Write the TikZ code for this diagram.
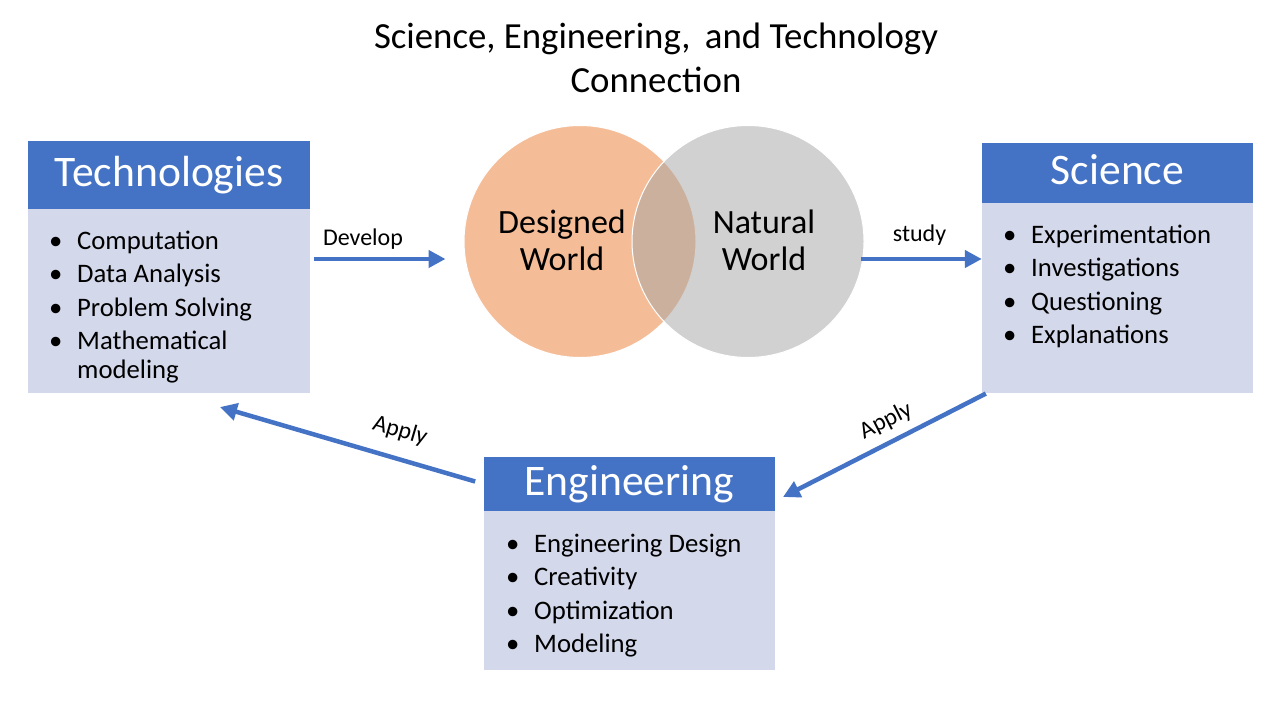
\documentclass[tikz,border=0pt]{standalone}
\usepackage{fontspec}
\setmainfont{Carlito}
\usetikzlibrary{arrows.meta}

\definecolor{headblue}{HTML}{4472C4}
\definecolor{bodyblue}{HTML}{D3D8EB}
\definecolor{designed}{HTML}{ED7D31}
\definecolor{natural}{HTML}{A5A5A5}

\tikzset{
  head/.style={fill=headblue, text=white, inner sep=0pt, font=\fontsize{43.6}{48}\selectfont, text height=29pt, text depth=7pt},
  body/.style={fill=bodyblue, inner sep=0pt, anchor=north},
  items/.style={anchor=base west, inner sep=0pt, font=\fontsize{26.7}{33.5}\selectfont},
  world/.style={circle, minimum size=232pt, inner sep=0pt, draw=white, line width=1pt, fill opacity=0.5},
  worldtext/.style={align=center, inner sep=0pt, font=\fontsize{34}{37}\selectfont},
  arr/.style={draw=headblue, line width=4.5pt, -{Triangle[length=17pt,width=17pt]}},
  lbl/.style={inner sep=0pt, font=\fontsize{24}{28}\selectfont}
}
\newcommand{\bl}{\makebox[28pt][l]{\textbullet}}

\begin{document}
\begin{tikzpicture}[x=1pt, y=-1pt]
    \fill[white] (0,0) rectangle (1280,720);
    \useasboundingbox (0,0) rectangle (1280,720);
    \node[align=center, inner sep=0pt, font=\fontsize{36.8}{44}\selectfont] (title) at (656,58) {Science, Engineering, \,and Technology\\Connection};

    % the two worlds
    \node[world, fill=designed] (des) at (580,241.5) {};
    \node[world, fill=natural] (nat) at (748,241.5) {};
    \node[worldtext] (destext) at (562,240) {Designed\\World};
    \node[worldtext] (nattext) at (764,240) {Natural\\World};

    % boxes
    \node[head, minimum width=282pt, minimum height=68pt] (techhead) at (169,175) {Technologies};
    \node[body, minimum width=282pt, minimum height=184pt] (techbody) at (techhead.south) {};
    \node[items] (techitems) at (49,249) {\begin{tabular}[t]{@{}l@{}}\bl Computation\\ \bl Data Analysis\\ \bl Problem Solving\\ \bl Mathematical\\[-5pt] \hspace*{28pt}modeling\end{tabular}};

    \node[head, minimum width=271pt, minimum height=60pt] (scihead) at (1117.5,173) {Science};
    \node[body, minimum width=271pt, minimum height=190pt] (scibody) at (scihead.south) {};
    \node[items] (sciitems) at (1003,243) {\begin{tabular}[t]{@{}l@{}}\bl Experimentation\\ \bl Investigations\\ \bl Questioning\\ \bl Explanations\end{tabular}};

    \node[head, minimum width=291pt, minimum height=54pt] (enghead) at (629.5,484) {Engineering};
    \node[body, minimum width=291pt, minimum height=159pt] (engbody) at (enghead.south) {};
    \node[items] (engitems) at (506,552) {\begin{tabular}[t]{@{}l@{}}\bl Engineering Design\\ \bl Creativity\\ \bl Optimization\\ \bl Modeling\end{tabular}};

    % connectors
    \coordinate (row) at (0,259);
    \coordinate (techin) at (220,407);
    \coordinate (engin) at (783,497);
    \draw[arr, shorten <=4pt, shorten >=18pt] (techbody.east |- row) -- (des.west |- row);
    \node[lbl, anchor=base] (devlbl) at (363,245) {Develop};
    \draw[arr, shorten <=-4pt] (nat.east |- row) -- (scibody.west |- row);
    \node[lbl, anchor=base] (studylbl) at (919.5,241) {study};
    \draw[arr, shorten <=9pt] (enghead.west) -- (techin);
    \node[lbl, rotate=-16.4] (applyl) at (400,431) {Apply};
    \draw[arr] ([xshift=4pt]scibody.south west) -- (engin);
    \node[lbl, rotate=27] (applyr) at (886,421) {Apply};
\end{tikzpicture}
\end{document}
